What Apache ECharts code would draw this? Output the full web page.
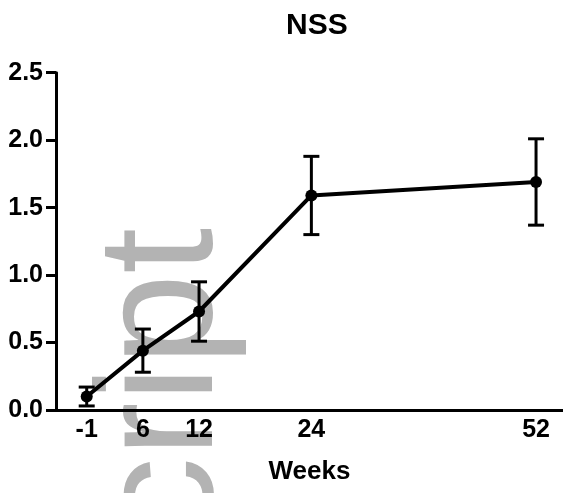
<!DOCTYPE html>
<html>
<head>
<meta charset="utf-8">
<script src="https://cdn.jsdelivr.net/npm/echarts@6/dist/echarts.min.js"></script>
<style>
html,body{margin:0;padding:0;background:#fff;}
#chart{width:563px;height:493px;}
</style>
</head>
<body>
<div id="chart"></div>
<script>
// Data
var weekLabels = ['-1', '6', '12', '24', '52'];
var xPositions = [0, 1.5, 3, 6, 12];
var means = [0.10, 0.44, 0.73, 1.59, 1.69];
var sems = [0.07, 0.16, 0.22, 0.29, 0.32];
var yTicks = [0, 0.5, 1.0, 1.5, 2.0, 2.5];

var lineData = xPositions.map(function (x, i) { return [x, means[i]]; });
var errData = xPositions.map(function (x, i) { return [x, means[i] - sems[i], means[i] + sems[i]]; });

var chart = echarts.init(document.getElementById('chart'), null, { renderer: 'canvas' });
var FONT = 'Liberation Sans, Arial, Helvetica, sans-serif';

chart.setOption({
  animation: false,
  backgroundColor: '#ffffff',
  title: {
    text: 'NSS',
    left: 281,
    top: 6,
    textStyle: { fontFamily: FONT, fontWeight: 'bold', fontSize: 30, color: '#000' }
  },
  graphic: [{
    type: 'text',
    x: 166,
    y: 228,
    rotation: Math.PI / 2,
    z: -10,
    silent: true,
    style: {
      text: 'script',
      font: '165px Liberation Sans, Arial, sans-serif',
      fill: '#b3b3b3',
      textAlign: 'right',
      textVerticalAlign: 'middle'
    }
  }],
  grid: { left: 56, right: 0, top: 72.7, bottom: 83, containLabel: false },
  xAxis: {
    type: 'value',
    min: -0.82,
    max: 12.72,
    name: 'Weeks',
    nameLocation: 'middle',
    nameGap: 49,
    nameTextStyle: { fontFamily: FONT, fontWeight: 'bold', fontSize: 26, color: '#000' },
    axisLine: { show: true, onZero: false, lineStyle: { color: '#000', width: 3 } },
    axisTick: { show: false },
    splitLine: { show: false },
    axisLabel: {
      customValues: xPositions,
      margin: 8,
      fontFamily: FONT, fontWeight: 'bold', fontSize: 25, color: '#000',
      formatter: function (v) {
        var i = xPositions.indexOf(v);
        return i >= 0 ? weekLabels[i] : '';
      }
    }
  },
  yAxis: {
    type: 'value',
    min: yTicks[0],
    max: yTicks[yTicks.length - 1],
    interval: 0.5,
    axisLine: { show: true, onZero: false, lineStyle: { color: '#000', width: 3 } },
    axisTick: { show: true, length: 10, lineStyle: { color: '#000', width: 3 } },
    splitLine: { show: false },
    axisLabel: {
      margin: 13,
      fontFamily: FONT, fontWeight: 'bold', fontSize: 25, color: '#000',
      formatter: function (v) { return v.toFixed(1); }
    }
  },
  series: [
    {
      type: 'custom',
      z: 3,
      renderItem: function (params, api) {
        var x = api.value(0);
        var lo = api.coord([x, api.value(1)]);
        var hi = api.coord([x, api.value(2)]);
        var hw = 8;
        var st = { stroke: '#000', lineWidth: 3 };
        return {
          type: 'group',
          children: [
            { type: 'line', shape: { x1: lo[0], y1: lo[1], x2: hi[0], y2: hi[1] }, style: st },
            { type: 'line', shape: { x1: lo[0] - hw, y1: lo[1], x2: lo[0] + hw, y2: lo[1] }, style: st },
            { type: 'line', shape: { x1: hi[0] - hw, y1: hi[1], x2: hi[0] + hw, y2: hi[1] }, style: st }
          ]
        };
      },
      encode: { x: 0, y: [1, 2] },
      data: errData
    },
    {
      type: 'line',
      z: 4,
      data: lineData,
      symbol: 'circle',
      symbolSize: 12,
      lineStyle: { color: '#000', width: 4 },
      itemStyle: { color: '#000' }
    }
  ]
});
</script>
</body>
</html>
